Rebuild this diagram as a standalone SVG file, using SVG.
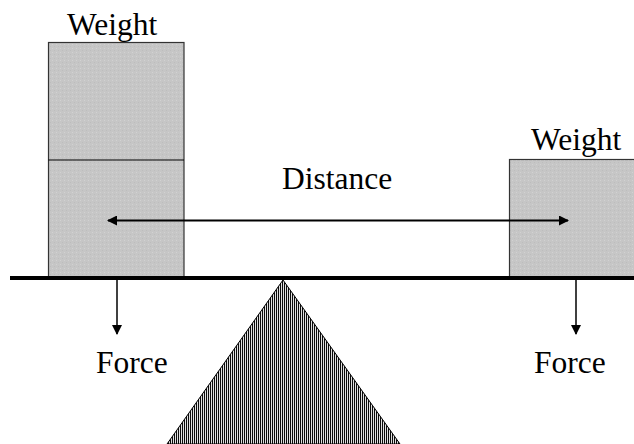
<svg xmlns="http://www.w3.org/2000/svg" width="634" height="444" viewBox="0 0 634 444">
<style>
.lbl{font-family:"Liberation Serif","Times New Roman",serif;font-size:31.5px;fill:#000}
.box{fill:url(#dots);stroke:#333;stroke-width:1.2}
.arr{stroke:#000;fill:none}
</style>
<defs>
<pattern id="dots" width="4" height="4" patternUnits="userSpaceOnUse">
<rect width="4" height="4" fill="#c6c6c6"/>
<rect x="0" y="0" width="1" height="1" fill="#d2d2d2"/>
<rect x="2" y="2" width="1" height="1" fill="#bdbdbd"/>
</pattern>
<pattern id="stripes" width="2" height="4" patternUnits="userSpaceOnUse">
<rect width="2" height="4" fill="#0a0a0a"/>
<rect x="1" width="1" height="4" fill="#e0e0e0"/>
</pattern>
<marker id="ah" viewBox="0 0 10 10" refX="9" refY="5" markerWidth="10" markerHeight="10" markerUnits="userSpaceOnUse" orient="auto-start-reverse">
<path d="M0,0 L10,5 L0,10 z" fill="#000"/>
</marker>
</defs>
<g id="fulcrum">
<polygon points="283,280 167,444 400,444" fill="url(#stripes)" stroke="#000" stroke-width="1"/>
</g>
<g id="left-weight">
<rect class="box" x="48.5" y="42.5" width="135.5" height="234.5"/>
<line x1="48.5" y1="160" x2="184" y2="160" stroke="#000" stroke-width="1.2"/>
<text class="lbl" x="67" y="35">Weight</text>
</g>
<g id="right-weight">
<rect class="box" x="509.5" y="159.5" width="130" height="117.5"/>
<text class="lbl" x="531" y="150">Weight</text>
</g>
<g id="beam">
<line x1="10" y1="278" x2="634" y2="278" stroke="#000" stroke-width="4"/>
</g>
<g id="connectors">
<line class="arr" x1="108" y1="220.5" x2="568" y2="220.5" stroke-width="2.2" marker-start="url(#ah)" marker-end="url(#ah)"/>
<line class="arr" x1="117" y1="280" x2="117" y2="334" stroke-width="1.5" marker-end="url(#ah)"/>
<line class="arr" x1="576" y1="280" x2="576" y2="334" stroke-width="1.5" marker-end="url(#ah)"/>
</g>
<g id="labels">
<text class="lbl" x="282" y="189">Distance</text>
<text class="lbl" x="96" y="373">Force</text>
<text class="lbl" x="534" y="373">Force</text>
</g>
</svg>
